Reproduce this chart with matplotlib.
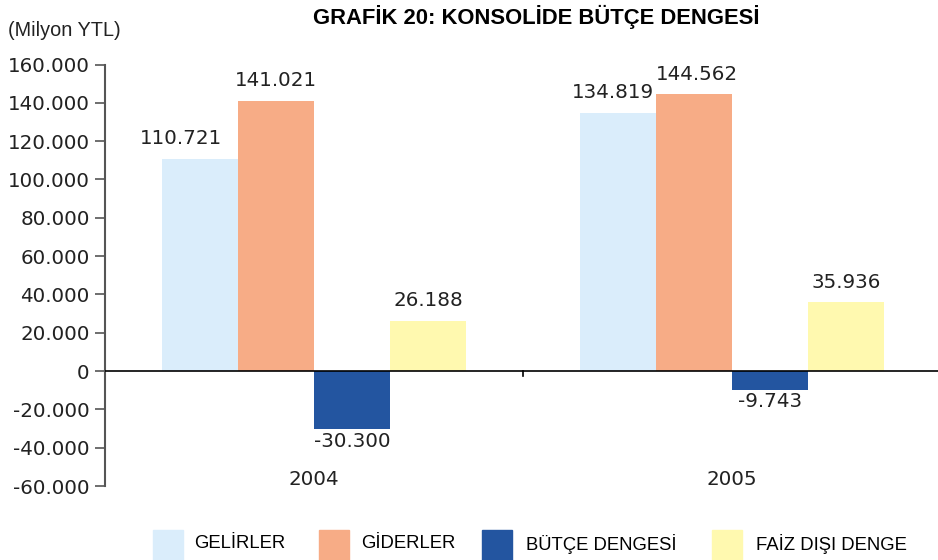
import matplotlib
matplotlib.use("Agg")
import matplotlib.pyplot as plt
from matplotlib.patches import Rectangle
import numpy as np

years = ["2004", "2005"]
series = ["GELİRLER", "GİDERLER", "BÜTÇE DENGESİ", "FAİZ DIŞI DENGE"]
gelirler = [110721, 134819]
giderler = [141021, 144562]
butce = [-30300, -9743]
faiz = [26188, 35936]
yticks = [160000, 140000, 120000, 100000, 80000, 60000, 40000, 20000, 0,
          -20000, -40000, -60000]
colors = ["#DAEDFB", "#F7AC86", "#2355A0", "#FFF9AF"]

narrow = "Liberation Sans"
num_font = "DejaVu Sans"
FS = 14.3
# horizontal label nudges (points) per series/year, to avoid neighbour bars
label_dx = [[-14, -4], [0, 2], [0, 0], [0, 0]]


def fmt(v):
    s = f"{abs(v):,}".replace(",", ".")
    return ("-" if v < 0 else "") + s


fig = plt.figure(figsize=(9.38, 5.6), dpi=100)
top, bot = 64.5, 486
ax = fig.add_axes([105/938, 1-bot/560, (941-105)/938, (bot-top)/560])

data = [gelirler, giderler, butce, faiz]
x = np.arange(len(years))
w = 76/418
for i, (vals, c) in enumerate(zip(data, colors)):
    pos = x + (i - 1.5) * w
    ax.bar(pos, vals, width=w, color=c, edgecolor="none", zorder=2)
    for j, (p, v) in enumerate(zip(pos, vals)):
        if v >= 0:
            ax.annotate(fmt(v), (p, v + 5500), xytext=(label_dx[i][j], 0),
                        textcoords="offset points", ha="center", va="bottom",
                        fontsize=FS, family=num_font, color="#222222")
        else:
            ax.annotate(fmt(v), (p, v - 1300), xytext=(label_dx[i][j], 0),
                        textcoords="offset points", ha="center", va="top",
                        fontsize=FS, family=num_font, color="#222222")

ax.set_xlim(-0.5, 1.5)
ax.set_ylim(-60000, 160000)
ax.set_yticks(yticks)
ax.set_yticklabels([fmt(v) for v in yticks], fontsize=FS, family=num_font,
                   color="#222222")
ax.tick_params(axis="y", direction="out", length=7, width=1.2, color="#555555", pad=4)
ax.set_xticks([])
for s in ["top", "right", "bottom"]:
    ax.spines[s].set_visible(False)
ax.spines["left"].set_color("#555555")
ax.spines["left"].set_linewidth(1.5)
ax.axhline(0, color="black", lw=1.2, zorder=3)
ax.plot([0.5, 0.5], [0, -2500], color="black", lw=1.2, zorder=3)

for xi, yr in zip(x, years):
    ax.text(xi, -56500, yr, ha="center", va="center", fontsize=FS,
            family=num_font, color="#222222")

fig.text(536/938, 1-17/560, "GRAFİK 20: KONSOLİDE BÜTÇE DENGESİ", ha="center",
         va="center", fontsize=15.8, fontweight="bold", family=narrow, color="black")
fig.text(8/938, 1-30/560, "(Milyon YTL)", ha="left", va="center", fontsize=14.3,
         family=narrow, color="#222222")

leg_patch_x = [153, 319, 482, 712]
leg_text_x = [194, 361, 526, 756]
for px, tx, name, c in zip(leg_patch_x, leg_text_x, series, colors):
    fig.patches.append(Rectangle((px/938, 0), 30/938, 30/560,
                                 transform=fig.transFigure, color=c))
    fig.text(tx/938, 1-544/560, name, ha="left", va="center", fontsize=13.3,
             family=narrow, color="black")

fig.savefig("out.png", dpi=100)
